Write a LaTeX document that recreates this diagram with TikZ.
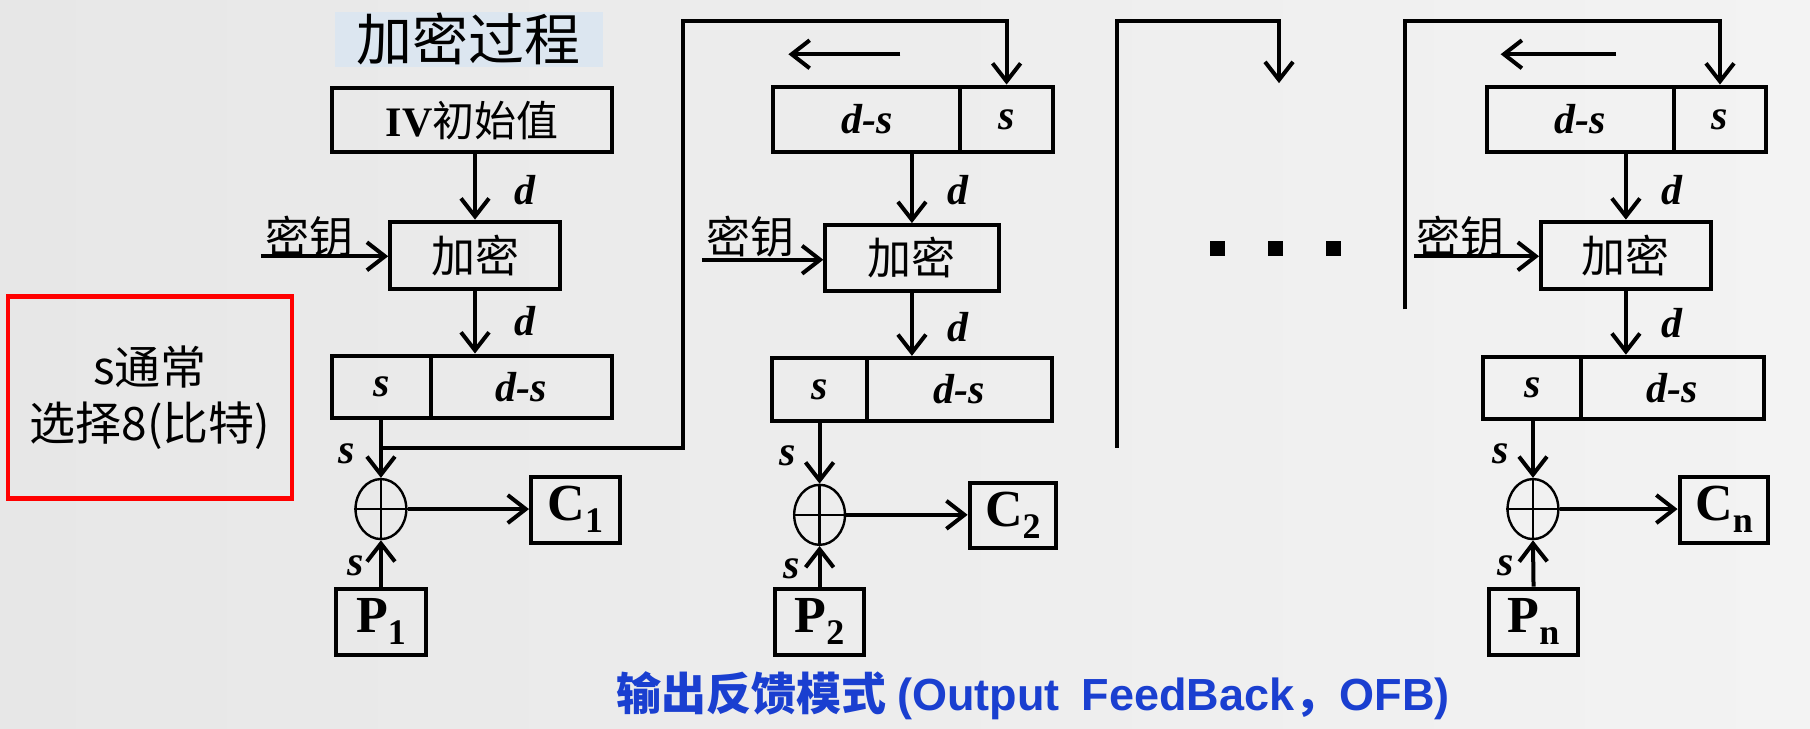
\documentclass[tikz,border=0pt]{standalone}
\usepackage{fontspec}
\setmainfont{Liberation Serif}
\newfontfamily\cjk{Noto Sans CJK SC}
\newfontfamily\arialf{Liberation Sans}
\usetikzlibrary{arrows.meta,shapes.geometric,calc}
\definecolor{bgL}{HTML}{E7E7E7}
\definecolor{bgR}{HTML}{F3F3F3}
\definecolor{titlebg}{HTML}{DCE6F0}
\definecolor{capblue}{HTML}{1A3FD0}
\newcommand\sbs[1]{\raisebox{-0.5ex}{\fontsize{18}{18}\selectfont #1}}
\begin{document}
\begin{tikzpicture}[x=0.57717pt,y=-0.57717pt,
  bx/.style 2 args={draw, line width=2pt, inner sep=0pt, minimum width=#1*0.57717pt, minimum height=#2*0.57717pt},
  arr/.style={line width=2pt,-{Straight Barb[length=9pt,width=14pt,line width=2pt]}},
  ln/.style={line width=1.3pt},
  it/.style={font=\fontsize{21}{23}\selectfont\bfseries\itshape},
  ck/.style={font=\cjk\fontsize{22}{24}\selectfont},
  sub/.style={font=\fontsize{26}{28}\selectfont\bfseries},
  xr/.style={draw, ellipse, line width=1.2pt, minimum width=44*0.57717pt, minimum height=52*0.57717pt, inner sep=0pt},
  dot/.style={fill=black, inner sep=0pt, minimum size=13*0.57717pt}
]
\shade[left color=bgL, right color=bgR] (0,0) rectangle (1568,631);
\useasboundingbox (0,0) rectangle (1568,631);

% ---------- note ----------
\node[draw=red, line width=2.4pt, minimum width=246*0.57717pt, minimum height=175*0.57717pt, align=center, font=\cjk\fontsize{23}{27.7}\selectfont] (note) at (130,344.5) {s通常\\选择8(比特)};

% ---------- stage 1 ----------
\node[fill=titlebg, inner sep=0pt, minimum width=232*0.57717pt, minimum height=48*0.57717pt, font=\cjk\fontsize{28}{30}\selectfont] (title) at (406,34) {加密过程};
\node[bx={242}{56}, font=\fontsize{21}{23}\selectfont] (iv) at (409,104) {\textbf{IV}{\cjk 初始值}};
\node[bx={147}{58}, ck] (enc1) at (411.5,221) {加密};
\node[ck] (key1) at (268,205) {密钥};
\coordinate (k1) at (226,222);
\draw[arr] (k1) -- (enc1.west |- k1);
\draw[arr] (iv.south -| enc1) -- (enc1.north);
\node[it] (d1a) at (455,165) {d};
\node[bx={85}{54}, it] (o1s) at (330.5,335) {s};
\node[bx={157}{54}, it] (o1d) at (451.5,335) {d-s};
\draw[arr] (enc1.south) -- (enc1.south |- o1d.north);
\node[it] (d1b) at (455,278) {d};
\node[xr] (x1) at (330,441) {};
\draw[ln] (x1.north) -- (x1.south) (x1.west) -- (x1.east);
\draw[arr] (o1s.south -| x1) -- (x1.north);
\node[it] (s1a) at (300,393) {s};
\node[bx={77}{57}, sub] (c1) at (498.5,441.5) {C\sbs{1}};
\draw[arr] (x1.east) -- (x1.east -| c1.west);
\node[bx={78}{57}, sub] (p1) at (330,538.5) {P\sbs{1}};
\draw[arr] (p1.north) -- (x1.south);
\node[it] (s1b) at (308,490) {s};

% ---------- stage 2 ----------
\node[bx={162}{57}, it] (i2d) at (751,103.5) {d-s};
\node[bx={80}{57}, it] (i2s) at (872,103.5) {s};
\coordinate (sh2a) at (780,47);
\coordinate (sh2b) at (683,47);
\draw[arr] (sh2a) -- (sh2b);
\node[bx={150}{57}, ck] (enc2) at (790,223.5) {加密};
\draw[arr] (i2d.south -| enc2) -- (enc2.north);
\node[it] (d2a) at (830,165) {d};
\node[ck] (key2) at (650,205) {密钥};
\coordinate (k2) at (608,225);
\draw[arr] (k2) -- (enc2.west |- k2);
\node[bx={82}{55}, it] (o2s) at (710,337.5) {s};
\node[bx={160}{55}, it] (o2d) at (831,337.5) {d-s};
\draw[arr] (enc2.south) -- (enc2.south |- o2d.north);
\node[it] (d2b) at (830,283) {d};
\node[xr] (x2) at (710,446) {};
\draw[ln] (x2.north) -- (x2.south) (x2.west) -- (x2.east);
\draw[arr] (o2s.south -| x2) -- (x2.north);
\node[it] (s2a) at (682,395) {s};
\node[bx={75}{57}, sub] (c2) at (877.5,446.5) {C\sbs{2}};
\draw[arr] (x2.east) -- (x2.east -| c2.west);
\node[bx={77}{57}, sub] (p2) at (710,538.5) {P\sbs{2}};
\draw[arr] (p2.north) -- (x2.south);
\node[it] (s2b) at (686,493) {s};

% feedback from stage 1 to stage 2
\coordinate (f1) at (330,388);
\coordinate (f1b) at (592,388);
\coordinate (f1t) at (592,18);
\draw[arr] (f1) -- (f1b) -- (f1t) -| (i2s.north);

% ---------- middle ----------
\coordinate (m1) at (968,388);
\coordinate (m2) at (968,18);
\coordinate (m3) at (1108,18);
\coordinate (m4) at (1108,72);
\draw[arr] (m1) -- (m2) -- (m3) -- (m4);
\node[dot] (dt1) at (1055,215) {};
\node[dot] (dt2) at (1105,215) {};
\node[dot] (dt3) at (1155,215) {};

% ---------- stage n ----------
\node[bx={162}{57}, it] (ind) at (1369,103.5) {d-s};
\node[bx={80}{57}, it] (ins) at (1490,103.5) {s};
\coordinate (shna) at (1400,47);
\coordinate (shnb) at (1300,47);
\draw[arr] (shna) -- (shnb);
\coordinate (n1) at (1217,268);
\coordinate (n2) at (1217,18);
\draw[arr] (n1) -- (n2) -| (ins.north);
\node[bx={147}{58}, ck] (encn) at (1408.5,221) {加密};
\draw[arr] (ind.south -| encn) -- (encn.north);
\node[it] (dna) at (1448,165) {d};
\node[ck] (keyn) at (1265,205) {密钥};
\coordinate (kn) at (1225,222);
\draw[arr] (kn) -- (encn.west |- kn);
\node[bx={85}{54}, it] (ons) at (1327.5,336) {s};
\node[bx={158}{54}, it] (ond) at (1449,336) {d-s};
\draw[arr] (encn.south) -- (encn.south |- ond.north);
\node[it] (dnb) at (1448,280) {d};
\node[xr] (xn) at (1328,441) {};
\draw[ln] (xn.north) -- (xn.south) (xn.west) -- (xn.east);
\draw[arr] (ons.south -| xn) -- (xn.north);
\node[it] (sna) at (1300,393) {s};
\node[bx={77}{57}, sub] (cn) at (1493.5,441.5) {C\sbs{n}};
\draw[arr] (xn.east) -- (xn.east -| cn.west);
\node[bx={77}{57}, sub] (pn) at (1328.5,538.5) {P\sbs{n}};
\draw[arr] (pn.north) -- (xn.south);
\node[it] (snb) at (1304,490) {s};

% ---------- caption ----------
\node[text=capblue, font=\cjk\bfseries\fontsize{22.5}{24}\selectfont] (cap) at (895,603) {输出反馈模式 {\arialf\bfseries (Output\hspace{0.5em}FeedBack}，{\arialf\bfseries OFB)}};
\end{tikzpicture}
\end{document}
